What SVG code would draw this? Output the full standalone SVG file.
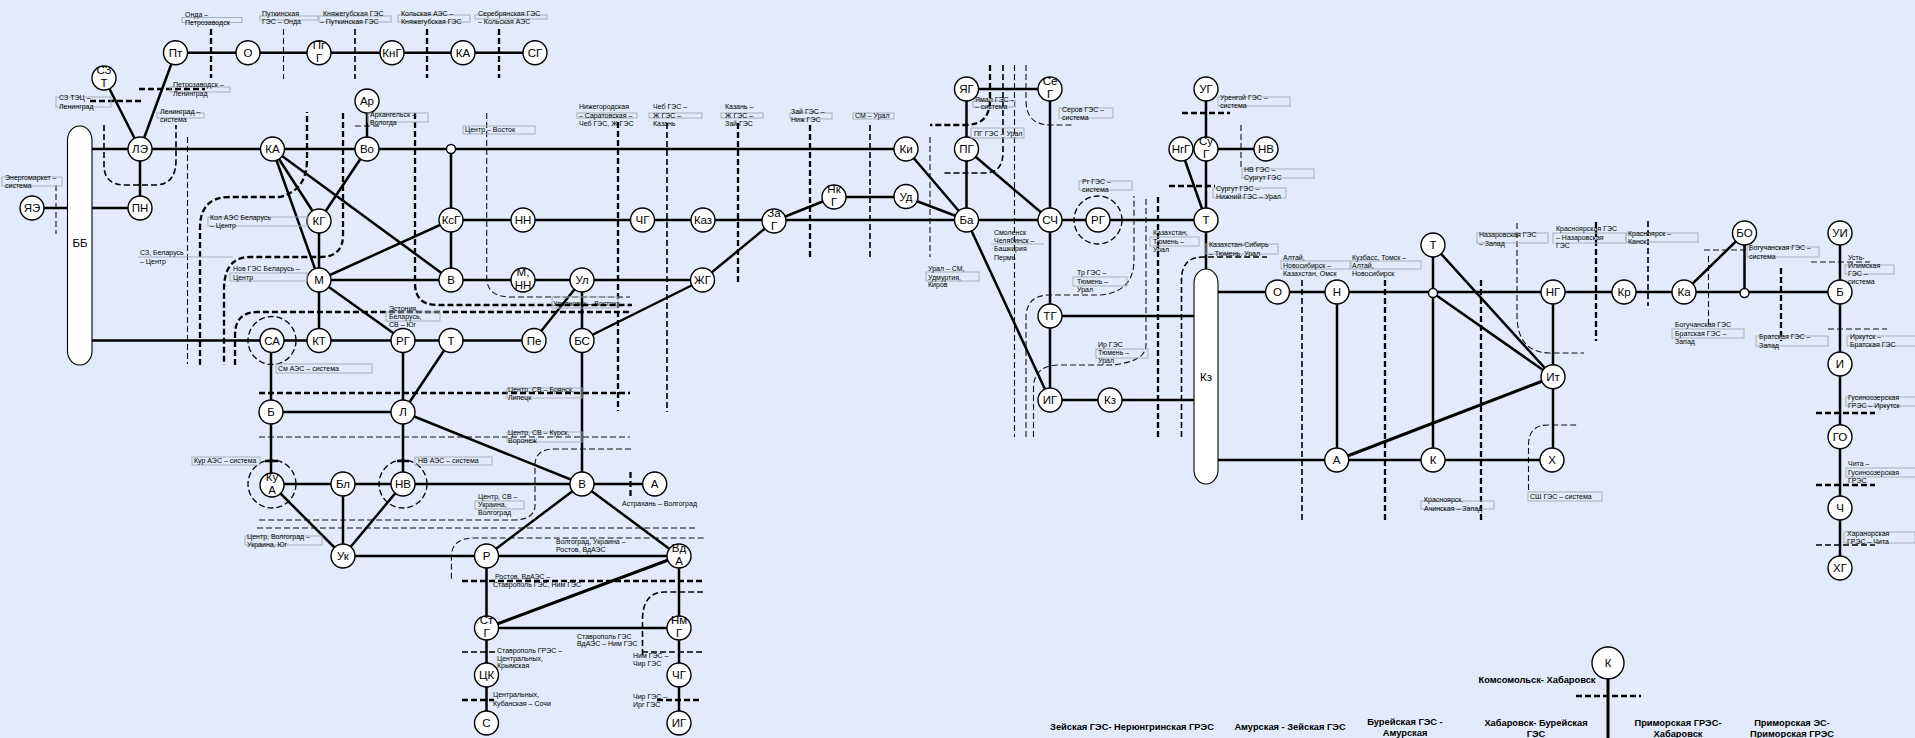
<svg xmlns="http://www.w3.org/2000/svg" width="1915" height="738" viewBox="0 0 1915 738">
<style>
text{font-family:"Liberation Sans",Arial,sans-serif;fill:#000}
.bg{fill:#e2eafc}
.e{fill:none;stroke:#000;stroke-width:2.5}
.x{fill:none;stroke:#000;stroke-width:3}
.h{fill:none;stroke:#000;stroke-width:2.3;stroke-dasharray:6 3}
.m{fill:none;stroke:#000;stroke-width:1.6;stroke-dasharray:6 3}
.t{fill:none;stroke:#111;stroke-width:1.1;stroke-dasharray:6 3}
.c{fill:none;stroke:#000;stroke-width:1.3;stroke-dasharray:6 3}
.n circle{fill:#fff;stroke:#000;stroke-width:1.4}
.n rect{fill:#fff;stroke:#000;stroke-width:1.1}
.n text{font-size:11.5px;text-anchor:middle}
.l text{font-size:7px}
.l rect{fill:none;stroke:#a9aeb8;stroke-width:1}
.b text{font-size:9.3px;font-weight:bold;text-anchor:middle}
</style>
<rect class="bg" width="1915" height="738"/>
<g id="connectors">
<g id="dashed">
<path class="h" d="M211 29V78M427 29V78M499 29V78M139 89H205M90 101H141M618 122V411M738 123V282M810 125V257M1158 197V437M1385 280V521M1481 280V521M1596 222V341M1781 268V341M1816 413H1875M1816 485H1875M1576 696H1641M259 393H630M462 581H703M630.5 472V498M462 700H494M657 700H702M1169 186H1215M1182 113H1230M990 65V100Q990 125 965 125H930"/>
<path class="h" d="M343 113V235Q343 257 320 257H250Q224 257 224 290V365M200 365V228Q200 197 230 197H280Q307 190 307 160V112M235 365V335Q235 312 258 312H632M415 113V283Q415 305 437 305H632"/>
<path class="m" d="M355 29V79M1648 221V306M870 125V257M667 123V412M1302 280V521M1816 545H1875M462 652H498M642 652H703M642.5 655V620Q642.500 592 665 592H703M1003 65V152Q1003 173 985 173H943M1181.500 437V280Q1181.500 257 1203 257H1267M104 125V165Q104 185 125 185H155Q176 185 176 160V125"/>
<path class="t" d="M283.500 29V79M56 185V234M187.500 137V364M355 126H380M486.700 113V277Q486.700 297 510 297H630M1014.500 65V437M1026 65V100Q1026 125 1050 125H1073M1026 437V318Q1026 296 1048 295H1100Q1134 292 1134 260V196M1033.500 437V388Q1033.500 365 1060 365H1111Q1146 362 1146 345V196M930 137V257M1241 125V167M1517 223V315Q1517 352 1549 353H1584M1704 250H1750M1708.500 256V325M1811 262H1870M1828 329H1887M1528.500 490V445Q1528.500 425 1548 425H1578M259 437H630M631 449H555Q535 449 535 465V505Q535 520 513 520H257M257 528H695M703.700 538H474Q451.400 538 451.400 557V580"/>
<circle class="c" cx="272" cy="340.500" r="24"/>
<circle class="c" cx="272" cy="484" r="24"/>
<circle class="c" cx="403" cy="484" r="24"/>
<circle class="c" cx="1098" cy="220" r="24"/>
</g>
<g id="lines">
<path class="e" d="M175.500 52.700H535M104 78L140 149M175.500 52.700L140 149M140 149V208M92 149H906M32 208H67M92 208H140M92 340.500H534"/>
<path class="e" d="M272.500 149L319 221M272.500 149L319 280M272.500 149L451 280M367 149V101M367 149L319 221M319 221V340M319 280L451 220M319 280L403 340M319 280H702.500M451 149V280M451 220H1206M702.500 280L774 221M582 340L702.500 280M774 221L834 197M834 197H906M906 197L966.500 220M906 149L966.500 220M966.500 89V220M966.500 89H1050M966.500 149L1050 220M1050 89V400M966.500 220L1050 400M1050 400H1194M1050 316H1194M582 280V484M534 340L582 280"/>
<path class="e" d="M451 340L403 412M403 340V484M271 340.500V484M271 412H403M403 412L582 484M271 484H654.700M272 485L343 556M343 484V556M403 484L343 556M343 556H679M582 484L486.500 556M582 484L679 556M486.500 556V723M679 556V723M486.500 628H679M265 461H278M397 461H409"/>
<path class="x" d="M679 556L486.500 628M1337 460L1553 377M1608 663V738"/>
<path class="e" d="M1181 149H1266M1206 89V269M1181 149L1206 220M1218 292H1840M1337 292V460M1433 245V460M1433 245L1553 377M1433 293L1553 377M1553 292V460M1218 460H1552M1744.500 233L1684 292M1744.500 233V293M1840 233V568"/>
</g>
</g>
<g id="n-BB" class="n"><rect x="67.500" y="126" width="24.500" height="239" rx="12" ry="14"/><text x="80" y="247">ББ</text></g>
<g id="n-Kz" class="n"><rect x="1194" y="269" width="24" height="215" rx="12" ry="14"/><text x="1206" y="381">Кз</text></g>
<g id="n-Pt" class="n"><circle cx="175.500" cy="52.700" r="12"/><text x="175.500" y="57">Пт</text></g>
<g id="n-O" class="n"><circle cx="248" cy="52.700" r="12"/><text x="248" y="57">О</text></g>
<g id="n-PgG" class="n"><circle cx="319" cy="52.700" r="12"/><text x="319" y="49">Пг</text><text x="319" y="62">Г</text></g>
<g id="n-KnG" class="n"><circle cx="392" cy="52.700" r="12"/><text x="392" y="57">КнГ</text></g>
<g id="n-KA1" class="n"><circle cx="463" cy="52.700" r="12"/><text x="463" y="57">КА</text></g>
<g id="n-SG" class="n"><circle cx="535" cy="52.700" r="12"/><text x="535" y="57">СГ</text></g>
<g id="n-SZT" class="n"><circle cx="104" cy="78" r="12"/><text x="104" y="74">СЗ</text><text x="104" y="87">Т</text></g>
<g id="n-LE" class="n"><circle cx="140" cy="149" r="12"/><text x="140" y="153">ЛЭ</text></g>
<g id="n-KA2" class="n"><circle cx="272.500" cy="149" r="12"/><text x="272.500" y="153">КА</text></g>
<g id="n-Vo" class="n"><circle cx="367" cy="149" r="12"/><text x="367" y="153">Во</text></g>
<g id="n-J1" class="n"><circle cx="451" cy="149" r="4.500"/></g>
<g id="n-Ar" class="n"><circle cx="367" cy="101" r="12"/><text x="367" y="105">Ар</text></g>
<g id="n-YaE" class="n"><circle cx="32" cy="208" r="12"/><text x="32" y="212">ЯЭ</text></g>
<g id="n-PN" class="n"><circle cx="140" cy="208" r="12"/><text x="140" y="212">ПН</text></g>
<g id="n-KG" class="n"><circle cx="319" cy="221" r="12"/><text x="319" y="225">КГ</text></g>
<g id="n-KsG" class="n"><circle cx="451" cy="220" r="12"/><text x="451" y="224">КсГ</text></g>
<g id="n-NN" class="n"><circle cx="523" cy="220" r="12"/><text x="523" y="224">НН</text></g>
<g id="n-ChG1" class="n"><circle cx="642.500" cy="220" r="12"/><text x="642.500" y="224">ЧГ</text></g>
<g id="n-Kaz" class="n"><circle cx="703" cy="220" r="12"/><text x="703" y="224">Каз</text></g>
<g id="n-ZaG" class="n"><circle cx="774" cy="221" r="12"/><text x="774" y="217">За</text><text x="774" y="230">Г</text></g>
<g id="n-NkG" class="n"><circle cx="834" cy="197" r="12"/><text x="834" y="193">Нк</text><text x="834" y="206">Г</text></g>
<g id="n-Ud" class="n"><circle cx="906" cy="196.500" r="12"/><text x="906" y="200.500">Уд</text></g>
<g id="n-Ki" class="n"><circle cx="906" cy="149" r="12"/><text x="906" y="153">Ки</text></g>
<g id="n-Ba" class="n"><circle cx="966.500" cy="220" r="12"/><text x="966.500" y="224">Ба</text></g>
<g id="n-SCh" class="n"><circle cx="1050" cy="220" r="12"/><text x="1050" y="224">СЧ</text></g>
<g id="n-RG2" class="n"><circle cx="1098" cy="220" r="12"/><text x="1098" y="224">РГ</text></g>
<g id="n-YaG" class="n"><circle cx="966.500" cy="89" r="12"/><text x="966.500" y="93">ЯГ</text></g>
<g id="n-SeG" class="n"><circle cx="1050" cy="89" r="12"/><text x="1050" y="85">Се</text><text x="1050" y="98">Г</text></g>
<g id="n-PG" class="n"><circle cx="966.500" cy="149" r="12"/><text x="966.500" y="153">ПГ</text></g>
<g id="n-TG" class="n"><circle cx="1050" cy="316" r="12"/><text x="1050" y="320">ТГ</text></g>
<g id="n-IG1" class="n"><circle cx="1050" cy="400" r="12"/><text x="1050" y="404">ИГ</text></g>
<g id="n-Kz2" class="n"><circle cx="1110" cy="400" r="12"/><text x="1110" y="404">Кз</text></g>
<g id="n-NgG" class="n"><circle cx="1181" cy="149" r="12"/><text x="1181" y="153">НгГ</text></g>
<g id="n-SuG" class="n"><circle cx="1206" cy="149" r="12"/><text x="1206" y="145">Су</text><text x="1206" y="158">Г</text></g>
<g id="n-NV2" class="n"><circle cx="1266" cy="149" r="12"/><text x="1266" y="153">НВ</text></g>
<g id="n-UG" class="n"><circle cx="1206" cy="89" r="12"/><text x="1206" y="93">УГ</text></g>
<g id="n-T2" class="n"><circle cx="1206" cy="220" r="12"/><text x="1206" y="224">Т</text></g>
<g id="n-M" class="n"><circle cx="319" cy="280" r="12"/><text x="319" y="284">М</text></g>
<g id="n-V1" class="n"><circle cx="451" cy="280" r="12"/><text x="451" y="284">В</text></g>
<g id="n-MNN" class="n"><circle cx="523" cy="280" r="12"/><text x="523" y="276">М,</text><text x="523" y="289">НН</text></g>
<g id="n-Ul" class="n"><circle cx="582" cy="280" r="12"/><text x="582" y="284">Ул</text></g>
<g id="n-ZhG" class="n"><circle cx="702.500" cy="280" r="12"/><text x="702.500" y="284">ЖГ</text></g>
<g id="n-SA" class="n"><circle cx="272" cy="340.500" r="12"/><text x="272" y="344.500">СА</text></g>
<g id="n-KT" class="n"><circle cx="319" cy="340.500" r="12"/><text x="319" y="344.500">КТ</text></g>
<g id="n-RG1" class="n"><circle cx="403" cy="340.500" r="12"/><text x="403" y="344.500">РГ</text></g>
<g id="n-T1" class="n"><circle cx="451" cy="340.500" r="12"/><text x="451" y="344.500">Т</text></g>
<g id="n-Pe" class="n"><circle cx="534" cy="340.500" r="12"/><text x="534" y="344.500">Пе</text></g>
<g id="n-BS" class="n"><circle cx="582" cy="340.500" r="12"/><text x="582" y="344.500">БС</text></g>
<g id="n-B1" class="n"><circle cx="271" cy="412" r="12"/><text x="271" y="416">Б</text></g>
<g id="n-L" class="n"><circle cx="403" cy="412" r="12"/><text x="403" y="416">Л</text></g>
<g id="n-KuA" class="n"><circle cx="272" cy="485" r="12"/><text x="272" y="481">Ку</text><text x="272" y="494">А</text></g>
<g id="n-Bl" class="n"><circle cx="343" cy="484" r="12"/><text x="343" y="488">Бл</text></g>
<g id="n-NV1" class="n"><circle cx="403" cy="484" r="12"/><text x="403" y="488">НВ</text></g>
<g id="n-V2" class="n"><circle cx="582" cy="484" r="12"/><text x="582" y="488">В</text></g>
<g id="n-A1" class="n"><circle cx="654.700" cy="484" r="12"/><text x="654.700" y="488">А</text></g>
<g id="n-Uk" class="n"><circle cx="343" cy="556" r="12"/><text x="343" y="560">Ук</text></g>
<g id="n-R" class="n"><circle cx="486.500" cy="556" r="12"/><text x="486.500" y="560">Р</text></g>
<g id="n-VdA" class="n"><circle cx="679" cy="556" r="12"/><text x="679" y="552">Вд</text><text x="679" y="565">А</text></g>
<g id="n-StG" class="n"><circle cx="486.500" cy="628" r="12"/><text x="486.500" y="624">Ст</text><text x="486.500" y="637">Г</text></g>
<g id="n-NmG" class="n"><circle cx="679" cy="628" r="12"/><text x="679" y="624">Нм</text><text x="679" y="637">Г</text></g>
<g id="n-TsK" class="n"><circle cx="486.500" cy="675" r="12"/><text x="486.500" y="679">ЦК</text></g>
<g id="n-ChG2" class="n"><circle cx="679" cy="675" r="12"/><text x="679" y="679">ЧГ</text></g>
<g id="n-S" class="n"><circle cx="486.500" cy="723" r="12"/><text x="486.500" y="727">С</text></g>
<g id="n-IG2" class="n"><circle cx="679" cy="723" r="12"/><text x="679" y="727">ИГ</text></g>
<g id="n-O2" class="n"><circle cx="1277.500" cy="292" r="12"/><text x="1277.500" y="296">О</text></g>
<g id="n-N" class="n"><circle cx="1337" cy="292" r="12"/><text x="1337" y="296">Н</text></g>
<g id="n-J2" class="n"><circle cx="1433" cy="293" r="4.500"/></g>
<g id="n-T3" class="n"><circle cx="1433" cy="245" r="12"/><text x="1433" y="249">Т</text></g>
<g id="n-NG" class="n"><circle cx="1553" cy="292" r="12"/><text x="1553" y="296">НГ</text></g>
<g id="n-Kr" class="n"><circle cx="1624" cy="292" r="12"/><text x="1624" y="296">Кр</text></g>
<g id="n-Ka" class="n"><circle cx="1684" cy="292" r="12"/><text x="1684" y="296">Ка</text></g>
<g id="n-J3" class="n"><circle cx="1744.500" cy="293" r="4.500"/></g>
<g id="n-BO" class="n"><circle cx="1744.500" cy="233" r="12"/><text x="1744.500" y="237">БО</text></g>
<g id="n-UI" class="n"><circle cx="1840" cy="233" r="12"/><text x="1840" y="237">УИ</text></g>
<g id="n-B2" class="n"><circle cx="1840" cy="292" r="12"/><text x="1840" y="296">Б</text></g>
<g id="n-I" class="n"><circle cx="1840" cy="364" r="12"/><text x="1840" y="368">И</text></g>
<g id="n-It" class="n"><circle cx="1553" cy="376.700" r="12"/><text x="1553" y="381">Ит</text></g>
<g id="n-A2" class="n"><circle cx="1336.700" cy="460" r="12"/><text x="1336.700" y="464">А</text></g>
<g id="n-K1" class="n"><circle cx="1433" cy="460" r="12"/><text x="1433" y="464">К</text></g>
<g id="n-X" class="n"><circle cx="1552" cy="460" r="12"/><text x="1552" y="464">Х</text></g>
<g id="n-GO" class="n"><circle cx="1840" cy="436.700" r="12"/><text x="1840" y="441">ГО</text></g>
<g id="n-Ch" class="n"><circle cx="1840" cy="508" r="12"/><text x="1840" y="512">Ч</text></g>
<g id="n-XG" class="n"><circle cx="1840" cy="568" r="12"/><text x="1840" y="572">ХГ</text></g>
<g id="n-K2" class="n"><circle cx="1608" cy="663" r="16"/><text x="1608" y="667">К</text></g>
<g id="labels" class="l">
<rect x="182" y="17.500" width="60" height="5"/><text x="185" y="16.500">Онда –</text><text x="185" y="24.500">Петрозаводск</text>
<rect x="260" y="16" width="58" height="4"/><text x="262" y="15.500">Путкинская</text><text x="262" y="24">ГЭС – Онда</text>
<rect x="319" y="16" width="72" height="6"/><text x="323" y="15.500">Княжегубская ГЭС</text><text x="320" y="23.500">– Путкинская ГЭС</text>
<rect x="398" y="15" width="72" height="7"/><text x="401" y="15.500">Кольская АЭС –</text><text x="401" y="23.500">Княжегубская ГЭС</text>
<rect x="475" y="15" width="72" height="4"/><text x="478" y="15.500">Серебрянская ГЭС</text><text x="478" y="23.500">– Кольская АЭС</text>
<rect x="170" y="87" width="60" height="5"/><text x="173" y="86.500">Петрозаводск –</text><text x="173" y="95.500">Ленинград</text>
<rect x="56" y="97" width="55" height="10"/><text x="59" y="99.500">СЗ ТЭЦ –</text><text x="59" y="108.500">Ленинград</text>
<rect x="157" y="113" width="47" height="5"/><text x="160" y="113.500">Ленинград –</text><text x="160" y="121.500">система</text>
<rect x="2" y="177" width="60" height="9"/><text x="5" y="179.500">Энергомаркет –</text><text x="5" y="187.500">система</text>
<rect x="208" y="217" width="100" height="9"/><text x="210" y="219.500">Кол АЭС Беларусь</text><text x="210" y="227.500">– Центр</text>
<path d="M138 257H233" stroke="#a9aeb8" fill="none"/><text x="140" y="254.500">СЗ, Беларусь</text><text x="140" y="263.500">– Центр</text>
<rect x="230" y="273" width="77" height="8"/><text x="233" y="270.500">Нов ГЭС Беларусь –</text><text x="233" y="279.500">Центр</text>
<rect x="368" y="113" width="60" height="9"/><text x="370" y="116.500">Архангельск –</text><text x="370" y="124.500">Вологда</text>
<rect x="463" y="126" width="72" height="8"/><text x="465" y="131.500">Центр – Восток</text>
<rect x="386" y="312" width="54" height="9"/><text x="389" y="311">Эстония,</text><text x="389" y="319">Беларусь,</text><text x="389" y="327">СВ – Юг</text>
<rect x="552" y="297" width="66" height="11"/><text x="553" y="305.500">Ульяновск – Восток</text>
<rect x="276" y="364" width="96" height="9"/><text x="278" y="370.500">См АЭС – система</text>
<rect x="507" y="388" width="75" height="10"/><text x="508" y="391.500">Центр, СВ – Брянск,</text><text x="508" y="399.500">Липецк</text>
<rect x="507" y="432" width="75" height="10"/><text x="508" y="434.500">Центр, СВ – Курск,</text><text x="508" y="442.500">Воронеж</text>
<rect x="192" y="457" width="68" height="8"/><text x="194" y="462.500">Кур АЭС – система</text>
<rect x="415" y="457" width="77" height="8"/><text x="418" y="462.500">НВ АЭС – система</text>
<rect x="475" y="501" width="49" height="8"/><text x="478" y="498.500">Центр, СВ –</text><text x="478" y="506.500">Украина,</text><text x="478" y="514.500">Волгоград</text>
<rect x="245" y="536" width="77" height="9"/><text x="247" y="538.500">Центр, Волгоград –</text><text x="247" y="546.500">Украина, Юг</text>
<text x="622" y="505.500">Астрахань – Волгоград</text>
<text x="556" y="543.500">Волгоград, Украина –</text><text x="556" y="551.500">Ростов, ВдАЭС</text>
<text x="495" y="578.500">Ростов, ВдАЭС –</text><text x="493" y="586.500">Ставрополь ГЭС, Ним ГЭС</text>
<text x="497" y="652.500">Ставрополь ГРЭС –</text><text x="497" y="660.500">Центральных,</text><text x="497" y="667.500">Крымская</text>
<text x="493" y="696.500">Центральных,</text><text x="493" y="705.500">Кубанская – Сочи</text>
<text x="577" y="638.500">Ставрополь ГЭС</text><text x="577" y="645.500">ВдАЭС – Ним ГЭС</text>
<text x="633" y="657.500">Ним ГЭС –</text><text x="633" y="665.500">Чир ГЭС</text>
<text x="633" y="698.500">Чир ГЭС –</text><text x="633" y="706.500">Ирг ГЭС</text>
<rect x="577" y="113" width="60" height="5"/><text x="579" y="108.500">Нижегородская</text><text x="579" y="117.500">– Саратовская –</text><text x="579" y="125.500">Чеб ГЭС, Ж ГЭС</text>
<rect x="649" y="113" width="53" height="5"/><text x="653" y="108.500">Чеб ГЭС –</text><text x="653" y="117.500">Ж ГЭС –</text><text x="653" y="125.500">Казань</text>
<rect x="721" y="113" width="42" height="5"/><text x="725" y="108.500">Казань –</text><text x="725" y="117.500">Ж ГЭС –</text><text x="725" y="125.500">Зай ГЭС</text>
<rect x="790" y="113" width="42" height="6"/><text x="791" y="113.500">Зай ГЭС –</text><text x="791" y="121.500">Ниж ГЭС</text>
<rect x="853" y="113" width="41" height="6"/><text x="855" y="117.500">СМ – Урал</text>
<rect x="973" y="101" width="42" height="6"/><text x="975" y="101.500">Ямал ГЭС –</text><text x="975" y="108.500">– система</text>
<rect x="971" y="128" width="53" height="10"/><text x="974" y="135.500">ПГ ГЭС – Урал</text>
<rect x="1059" y="108" width="54" height="10"/><text x="1062" y="111.500">Серов ГЭС –</text><text x="1062" y="119.500">система</text>
<rect x="1079" y="181" width="53" height="9"/><text x="1082" y="183.500">Рг ГЭС –</text><text x="1082" y="191.500">система</text>
<path d="M991 244H1044" stroke="#a9aeb8" fill="none"/><text x="994" y="234.500">Смоленск</text><text x="994" y="242.500">Челябинск –</text><text x="994" y="250.500">Башкирия</text><text x="994" y="259.500">Пермь</text>
<rect x="926" y="272" width="53" height="9"/><text x="928" y="270.500">Урал – СМ,</text><text x="928" y="279.500">Удмуртия,</text><text x="928" y="286.500">Киров</text>
<rect x="1073" y="277" width="54" height="9"/><text x="1077" y="274.500">Тр ГЭС –</text><text x="1077" y="283.500">Тюмень –</text><text x="1077" y="291.500">Урал</text>
<rect x="1096" y="349" width="52" height="9"/><text x="1098" y="346.500">Ир ГЭС</text><text x="1098" y="354.500">Тюмень –</text><text x="1098" y="362.500">Урал</text>
<rect x="1150" y="237" width="49" height="9"/><text x="1153" y="234.500">Казахстан,</text><text x="1153" y="243.500">Тюмень –</text><text x="1153" y="251.500">Урал</text>
<rect x="1213" y="188" width="73" height="10"/><text x="1216" y="190.500">Сургут ГЭС –</text><text x="1216" y="198.500">Нижний ГЭС – Урал</text>
<rect x="1218" y="97" width="72" height="9"/><text x="1220" y="99.500">Уренгой ГЭС –</text><text x="1220" y="107.500">система</text>
<rect x="1242" y="169" width="72" height="9"/><text x="1244" y="171.500">НВ ГЭС –</text><text x="1244" y="179.500">Сургут ГЭС</text>
<rect x="1206" y="244" width="72" height="10"/><text x="1209" y="246.500">Казахстан-Сибирь</text><text x="1209" y="255.500">– Тюмень, Урал</text>
<rect x="1281" y="261" width="69" height="8"/><text x="1283" y="259.500">Алтай,</text><text x="1283" y="267.500">Новосибирск –</text><text x="1283" y="275.500">Казахстан, Омск</text>
<rect x="1351" y="261" width="70" height="8"/><text x="1352" y="259.500">Кузбасс, Томск –</text><text x="1352" y="267.500">Алтай,</text><text x="1352" y="275.500">Новосибирск</text>
<rect x="1477" y="233" width="71" height="10"/><text x="1479" y="236.500">Назаровская ГЭС</text><text x="1479" y="245.500">– Запад</text>
<rect x="1553" y="233" width="73" height="10"/><text x="1556" y="230.500">Красноярская ГЭС</text><text x="1556" y="239.500">– Назаровская</text><text x="1556" y="247.500">ГЭС</text>
<rect x="1626" y="233" width="72" height="9"/><text x="1628" y="235.500">Красноярск –</text><text x="1628" y="243.500">Канск</text>
<rect x="1747" y="247" width="72" height="10"/><text x="1749" y="249.500">Богучанская ГЭС –</text><text x="1749" y="258.500">система</text>
<rect x="1845" y="265" width="49" height="9"/><text x="1848" y="259.500">Усть-</text><text x="1848" y="267.500">Илимская</text><text x="1848" y="275.500">ГЭС –</text><text x="1848" y="283.500">система</text>
<rect x="1672" y="329" width="72" height="9"/><text x="1675" y="326.500">Богучанская ГЭС</text><text x="1675" y="335.500">Братская ГЭС –</text><text x="1675" y="343.500">Запад</text>
<rect x="1756" y="336" width="72" height="10"/><text x="1759" y="338.500">Братская ГЭС –</text><text x="1759" y="347.500">Запад</text>
<rect x="1847" y="336" width="73" height="10"/><text x="1850" y="338.500">Иркутск –</text><text x="1850" y="346.500">Братская ГЭС</text>
<rect x="1846" y="397" width="74" height="9"/><text x="1848" y="399.500">Гусиноозерская</text><text x="1848" y="407.500">ГРЭС – Иркутск</text>
<rect x="1846" y="468" width="74" height="9"/><text x="1848" y="465.500">Чита –</text><text x="1848" y="474.500">Гусиноозерская</text><text x="1848" y="482.500">ГРЭС</text>
<rect x="1844" y="532" width="71" height="11"/><text x="1847" y="535.500">Харанорская</text><text x="1847" y="543.500">ГРЭС – Чита</text>
<rect x="1421" y="501" width="73" height="8"/><text x="1424" y="501.500">Красноярск,</text><text x="1424" y="510.500">Ачинская – Запад</text>
<rect x="1528" y="492" width="74" height="9"/><text x="1530" y="498.500">СШ ГЭС – система</text>
</g>
<g id="big-labels" class="b">
<text x="1537" y="683">Комсомольск- Хабаровск</text>
<text x="1132" y="730">Зейская ГЭС- Нерюнгринская ГРЭС</text>
<text x="1290" y="730">Амурская - Зейская ГЭС</text>
<text x="1405" y="725">Бурейская ГЭС -</text><text x="1405" y="736">Амурская</text>
<text x="1536" y="726">Хабаровск- Бурейская</text><text x="1536" y="737">ГЭС</text>
<text x="1678" y="726">Приморская ГРЭС-</text><text x="1678" y="737">Хабаровск</text>
<text x="1792" y="726">Приморская ЭС-</text><text x="1792" y="737">Приморская ГРЭС</text>
</g>
</svg>
